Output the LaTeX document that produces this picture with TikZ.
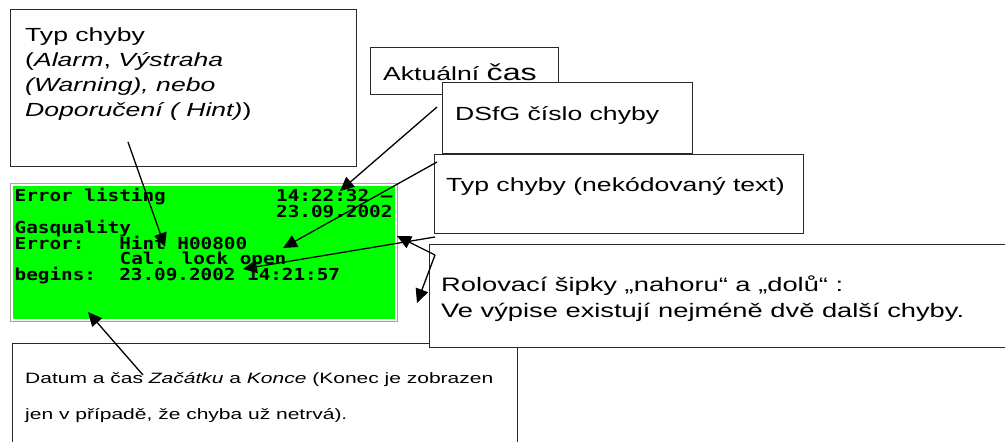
\documentclass[tikz,border=0pt]{standalone}
\usepackage{fontspec}
\setmainfont{Liberation Sans}
\newfontfamily\bx[FakeStretch=1.4]{Liberation Sans}
\newfontfamily\lcd[FakeStretch=1.17]{DejaVu Sans Mono}
\usetikzlibrary{arrows.meta}
\definecolor{lcdgreen}{RGB}{0,255,0}
\definecolor{boxline}{RGB}{40,40,40}
\begin{document}
\begin{tikzpicture}[x=1pt,y=-1pt,
  box/.style={draw=boxline, line width=1.1pt, fill=white, inner sep=0pt, anchor=north west},
  txt/.style={anchor=base west, inner sep=0pt, font=\bx\fontsize{19}{23}\selectfont},
  small/.style={anchor=base west, inner sep=0pt, font=\bx\fontsize{15}{18}\selectfont},
  lcdtxt/.style={anchor=base west, inner sep=0pt, font=\lcd\bfseries\fontsize{16.5}{16}\selectfont},
  arr/.style={-{Triangle[length=14pt,width=13pt]}, line width=1.3pt, black}]
\useasboundingbox (0,0) rectangle (1005,442);
\fill[white] (0,0) rectangle (1005,442);

% box 1: Typ chyby
\node[box, minimum width=345.5pt, minimum height=156.5pt] (b1) at (10,9) {};
\node[txt] (t1a) at (25,41) {Typ chyby};
\node[txt] (t1b) at (25,66) {(\textit{Alarm}, \textit{Výstraha}};
\node[txt] (t1c) at (25,91) {\textit{(Warning), nebo}};
\node[txt] (t1d) at (25,116) {\textit{Doporučení ( Hint)})};

% LCD screen
\node[draw=gray!70, line width=1pt, fill=white, inner sep=0pt, anchor=north west,
      minimum width=387pt, minimum height=138pt] (scr) at (10,183) {};
\fill[lcdgreen] (12.5,185.5) rectangle (394.5,318.5);
\node[lcdtxt] (l1) at (14.5,201.5) {Error listing};
\node[lcdtxt] (l2) at (276,201.5) {14:22:32 –};
\node[lcdtxt] (l3) at (276,217) {23.09.2002};
\node[lcdtxt] (l4) at (14.5,233) {Gasquality};
\node[lcdtxt] (l5) at (14.5,249) {Error:\ \ \ Hint H00800};
\node[lcdtxt] (l6) at (119.5,264.5) {Cal. lock open};
\node[lcdtxt] (l7) at (14.5,280) {begins:\ \ 23.09.2002 14:21:57};

% box 2: Aktualni cas
\node[box, minimum width=188pt, minimum height=47pt] (b2) at (370,47) {};
\node[txt] (t2) at (383,80) {Aktuální {\fontsize{23}{23}\selectfont čas}};

% box 3: DSfG
\node[box, minimum width=250pt, minimum height=71pt] (b3) at (442,82) {};
\node[txt] (t3) at (455,120) {DSfG číslo chyby};

% box 4: Typ chyby (nekodovany)
\node[box, minimum width=369pt, minimum height=79pt] (b4) at (434,154) {};
\node[txt] (t4) at (446,191) {Typ chyby (nekódovaný text)};

% box 6: Datum
\node[box, minimum width=505pt, minimum height=110pt] (b6) at (12,343) {};
\node[small] (t6a) at (25,383) {Datum a čas \textit{Začátku} a \textit{Konce} (Konec je zobrazen};
\node[small] (t6b) at (25,419) {jen v případě, že chyba už netrvá).};

% box 5: Rolovaci sipky
\node[box, minimum width=585pt, minimum height=103pt] (b5) at (429,244) {};
\node[txt, font=\bx\fontsize{19.5}{23}\selectfont] (t5a) at (441,291) {Rolovací šipky „nahoru“ a „dolů“ :};
\node[txt, font=\bx\fontsize{19.5}{23}\selectfont] (t5b) at (441,317) {Ve výpise existují nejméně dvě další chyby.};

% connector coordinates
\coordinate (a0) at (128,142);  \coordinate (a1) at (165,247);
\coordinate (c0) at (437,107);  \coordinate (c1) at (340,191);
\coordinate (d0) at (437,162);  \coordinate (d1) at (283,248);
\coordinate (e0) at (435,237);  \coordinate (e1) at (243,269);
\coordinate (r0) at (435,255);  \coordinate (r1) at (397,236);
\coordinate (r2) at (417,303);
\coordinate (f0) at (143,375);  \coordinate (f1) at (88,312);

\draw[arr] (a0) -- (a1);
\draw[arr] (c0) -- (c1);
\draw[arr] (d0) -- (d1);
\draw[arr] (e0) -- (e1);
\draw[arr] (r0) -- (r1);
\draw[arr] (r0) -- (r2);
\draw[arr] (f0) -- (f1);
\end{tikzpicture}
\end{document}
